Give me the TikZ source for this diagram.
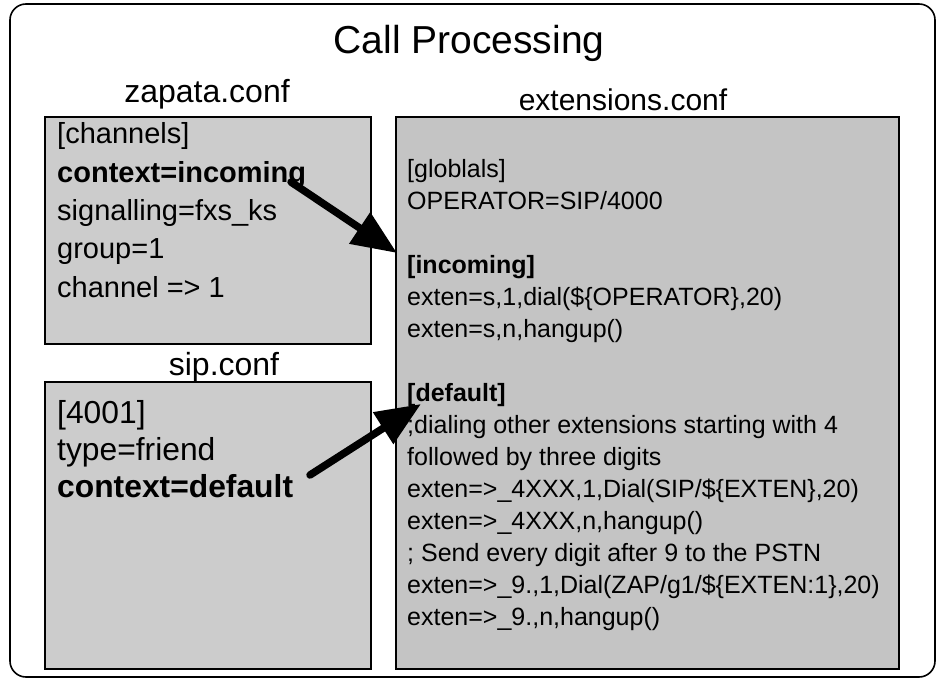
\documentclass[tikz,border=0pt]{standalone}
\usepackage{fontspec}
\setmainfont{Liberation Sans}
\usetikzlibrary{arrows.meta}
\definecolor{boxgray}{HTML}{CCCCCC}
\definecolor{extgray}{HTML}{C4C4C4}
\begin{document}
\begin{tikzpicture}[x=1pt,y=-1pt,
  confbox/.style={draw=black, line width=1.6pt, inner sep=0pt, outer sep=0pt, anchor=north west},
  lab/.style={font=\fontsize{32}{32}\selectfont, inner sep=0pt, anchor=base},
  zl/.style={font=\fontsize{29}{29}\selectfont, anchor=base west, inner sep=0pt},
  sl/.style={font=\fontsize{31.8}{31.8}\selectfont, anchor=base west, inner sep=0pt},
  el/.style={font=\fontsize{25}{25}\selectfont, anchor=base west, inner sep=0pt},
  bigarrow/.style={line width=7.5pt, line cap=round, -{Triangle[length=45pt,width=36pt]}}]
\useasboundingbox (0,0) rectangle (938,680);
\draw[line width=1.6pt, rounded corners=16pt] (10,4) rectangle (935,677);
\node[font=\fontsize{39}{39}\selectfont, inner sep=0pt, anchor=base] (title) at (469,53) {Call Processing};
% boxes
\node[confbox, fill=boxgray, minimum width=326pt, minimum height=227pt] (zap) at (45,117) {};
\node[confbox, fill=boxgray, minimum width=326pt, minimum height=287pt] (sip) at (45,382) {};
\node[confbox, fill=extgray, minimum width=503pt, minimum height=552pt] (ext) at (396,117) {};
% labels
\node[lab] (zaplab) at (207,102) {zapata.conf};
\node[lab, font=\fontsize{30}{30}\selectfont] (extlab) at (623,110) {extensions.conf};
\node[lab] (siplab) at (224,375) {sip.conf};
% zapata text
\node[zl] (z1) at (57,143) {[channels]};
\node[zl] (z2) at (57,182) {\bfseries context=incoming};
\node[zl] (z3) at (57,220) {signalling=fxs\_ks};
\node[zl] (z4) at (57,258) {group=1};
\node[zl] (z5) at (57,297) {channel => 1};
% sip text
\node[sl] (s1) at (57,423) {[4001]};
\node[sl] (s2) at (57,460) {type=friend};
\node[sl] (s3) at (57,497) {\bfseries context=default};
% extensions text
\node[el] (e1) at (407,177) {[globlals]};
\node[el] (e2) at (407,209) {OPERATOR=SIP/4000};
\node[el] (e4) at (407,273) {\bfseries [incoming]};
\node[el] (e5) at (407,305) {exten=s,1,dial(\$\{OPERATOR\},20)};
\node[el] (e6) at (407,337) {exten=s,n,hangup()};
\node[el] (e8) at (407,401) {\bfseries [default]};
\node[el] (e9) at (407,433) {;dialing other extensions starting with 4};
\node[el] (e10) at (407,465) {followed by three digits};
\node[el] (e11) at (407,497) {exten=>\_4XXX,1,Dial(SIP/\$\{EXTEN\},20)};
\node[el] (e12) at (407,529) {exten=>\_4XXX,n,hangup()};
\node[el] (e13) at (407,561) {; Send every digit after 9 to the PSTN};
\node[el] (e14) at (407,593) {exten=>\_9.,1,Dial(ZAP/g1/\$\{EXTEN:1\},20)};
\node[el] (e15) at (407,625) {exten=>\_9.,n,hangup()};
% arrows
\coordinate (a1s) at (291,182);
\coordinate (a1e) at (397,253);
\coordinate (a2s) at (310,475);
\coordinate (a2e) at (421,404);
\draw[bigarrow] (a1s) -- (a1e);
\draw[bigarrow] (a2s) -- (a2e);
\end{tikzpicture}
\end{document}
